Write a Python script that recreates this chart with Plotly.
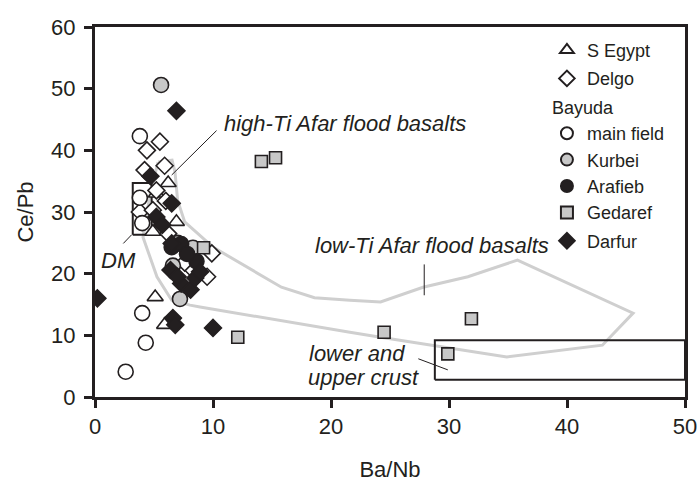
import plotly.graph_objects as go

# --- sample data: Ba/Nb (x) vs Ce/Pb (y) ---
S_EGYPT_X = [5.1, 5.9, 5.2, 6.2, 6.9, 4.9]
S_EGYPT_Y = [16.2, 11.7, 33.0, 34.7, 28.4, 26.8]

DELGO_X = [5.5, 4.4, 4.2, 5.9, 5.2, 3.8, 4.9, 6.0, 9.9, 9.5, 8.1, 6.2, 7.6]
DELGO_Y = [41.4, 40.0, 36.8, 37.5, 33.5, 30.0, 30.3, 31.8, 23.3, 19.5, 21.0, 26.5, 21.8]

MAIN_FIELD_X = [3.8, 3.8, 4.0, 4.0, 4.3, 2.6]
MAIN_FIELD_Y = [42.3, 32.3, 28.2, 13.6, 8.8, 4.1]

KURBEI_X = [5.6, 7.2, 6.6, 8.3, 7.0]
KURBEI_Y = [50.6, 15.9, 21.3, 24.2, 25.0]

ARAFIEB_X = [6.5, 7.3, 8.6, 7.8]
ARAFIEB_Y = [24.3, 24.8, 22.0, 23.2]

GEDAREF_X = [14.1, 15.3, 9.2, 12.1, 24.5, 31.9, 29.9]
GEDAREF_Y = [38.2, 38.8, 24.2, 9.7, 10.5, 12.7, 7.0]

DARFUR_X = [0.2, 6.9, 4.7, 6.6, 6.8, 10.0, 6.5, 5.2, 5.7, 6.5, 6.4, 7.3, 8.1, 7.0, 8.5, 8.9]
DARFUR_Y = [16.0, 46.4, 35.8, 12.8, 11.7, 11.2, 31.4, 29.2, 27.9, 24.9, 20.6, 18.4, 17.4, 19.5, 19.3, 20.3]

# --- reference fields ---
AFAR_FIELD_X = [5.34, 6.53, 6.78, 7.0, 7.6, 10.0, 15.8, 18.6, 21.6, 24.2, 27.8, 31.6, 35.8,
                45.6, 43.0, 34.9, 24.2, 21.6, 8.9, 8.05, 6.5, 5.25, 4.07, 4.66, 5.34]
AFAR_FIELD_Y = [38.1, 38.4, 36.5, 31.9, 28.4, 24.3, 17.8, 16.1, 15.7, 15.4, 17.8, 19.5, 22.2,
                13.6, 8.4, 6.5, 9.7, 10.5, 14.6, 14.9, 15.7, 19.5, 25.9, 32.8, 38.1]

DM_BOX_X = [3.2, 4.8, 4.8, 3.2, 3.2]
DM_BOX_Y = [26.3, 26.3, 34.7, 34.7, 26.3]

CRUST_BOX_X = [28.8, 50.0, 50.0, 28.8, 28.8]
CRUST_BOX_Y = [2.8, 2.8, 9.2, 9.2, 2.8]

# leader lines from labels to fields
HIGH_TI_LEAD_X = [10.3, 6.5]
HIGH_TI_LEAD_Y = [43.2, 36.0]
LOW_TI_LEAD_X = [27.9, 27.9]
LOW_TI_LEAD_Y = [21.5, 16.5]
DM_LEAD_X = [3.1, 2.4]
DM_LEAD_Y = [26.3, 24.9]
CRUST_LEAD_X = [27.4, 29.9]
CRUST_LEAD_Y = [6.2, 4.4]

X_TICKS = [0, 10, 20, 30, 40, 50]
Y_TICKS = [0, 10, 20, 30, 40, 50, 60]

INK = "#231f20"
GREY_FILL = "#c8c8c8"
FIELD_GREY = "#cfcfcf"
FONT = "Liberation Sans, Arial, Helvetica, sans-serif"

fig = go.Figure()

fig.add_trace(go.Scatter(x=AFAR_FIELD_X, y=AFAR_FIELD_Y, mode="lines",
                         line=dict(color=FIELD_GREY, width=3), showlegend=False, hoverinfo="skip"))
for bx, by in [(DM_BOX_X, DM_BOX_Y), (CRUST_BOX_X, CRUST_BOX_Y)]:
    fig.add_trace(go.Scatter(x=bx, y=by, mode="lines", line=dict(color=INK, width=2),
                             showlegend=False, hoverinfo="skip"))
for lx, ly in [(HIGH_TI_LEAD_X, HIGH_TI_LEAD_Y), (LOW_TI_LEAD_X, LOW_TI_LEAD_Y),
               (DM_LEAD_X, DM_LEAD_Y), (CRUST_LEAD_X, CRUST_LEAD_Y)]:
    fig.add_trace(go.Scatter(x=lx, y=ly, mode="lines", line=dict(color=INK, width=1),
                             showlegend=False, hoverinfo="skip"))

outline = dict(color=INK, width=1.6)
LEGEND_SIZE = 18


def add_group(name, xs, ys, symbol, size, fill, group, title=None):
    kw = {}
    if title:
        kw["legendgrouptitle"] = dict(text=title, font=dict(size=LEGEND_SIZE, color=INK, family=FONT))
    fig.add_trace(go.Scatter(
        x=xs, y=ys, mode="markers", name=name, legendgroup=group,
        marker=dict(symbol=symbol, size=size, color=fill, line=outline), **kw))


add_group("S Egypt", S_EGYPT_X, S_EGYPT_Y, "triangle-up", 14, "white", "eg")
add_group("Delgo", DELGO_X, DELGO_Y, "diamond", 13, "white", "de")
add_group("main field", MAIN_FIELD_X, MAIN_FIELD_Y, "circle", 15, "white", "ba", "Bayuda")
add_group("Kurbei", KURBEI_X, KURBEI_Y, "circle", 15, GREY_FILL, "ba")
add_group("Arafieb", ARAFIEB_X, ARAFIEB_Y, "circle", 15, INK, "ba")
add_group("Gedaref", GEDAREF_X, GEDAREF_Y, "square", 12, GREY_FILL, "ba")
add_group("Darfur", DARFUR_X, DARFUR_Y, "diamond", 13, INK, "da")

label_font = dict(family=FONT, size=22, color=INK)
annotations = [
    dict(x=10.8, y=44.4, text="<i>high-Ti Afar flood basalts</i>", xanchor="left"),
    dict(x=18.5, y=24.6, text="<i>low-Ti Afar flood basalts</i>", xanchor="left"),
    dict(x=2.0, y=22.2, text="<i>DM</i>", xanchor="center"),
    dict(x=18.0, y=7.1, text="<i>lower and</i>", xanchor="left"),
    dict(x=17.9, y=3.1, text="<i>upper crust</i>", xanchor="left"),
]
for a in annotations:
    fig.add_annotation(xref="x", yref="y", showarrow=False, yanchor="middle",
                       font=label_font, **a)

axis_common = dict(showline=True, linecolor=INK, linewidth=3, mirror=True,
                   ticks="outside", ticklen=8, tickwidth=3, tickcolor=INK,
                   showgrid=False, zeroline=False,
                   tickfont=dict(family=FONT, size=22, color=INK))

fig.update_layout(
    width=700, height=486,
    margin=dict(l=95, r=15, t=27, b=89, autoexpand=False),
    paper_bgcolor="white", plot_bgcolor="white",
    font=dict(family=FONT, color=INK),
    xaxis=dict(range=[0, 50], tickvals=X_TICKS,
               title=dict(text="Ba/Nb", font=dict(family=FONT, size=22, color=INK), standoff=24),
               **axis_common),
    yaxis=dict(range=[0, 60], tickvals=Y_TICKS, ticklabelstandoff=4,
               title=dict(text="Ce/Pb", font=dict(family=FONT, size=22, color=INK), standoff=12),
               **axis_common),
    legend=dict(x=0.766, y=0.987, xanchor="left", yanchor="top",
                bgcolor="rgba(0,0,0,0)", borderwidth=0,
                font=dict(family=FONT, size=LEGEND_SIZE, color=INK),
                tracegroupgap=2, itemsizing="constant"),
)

fig.write_html("out.html")
